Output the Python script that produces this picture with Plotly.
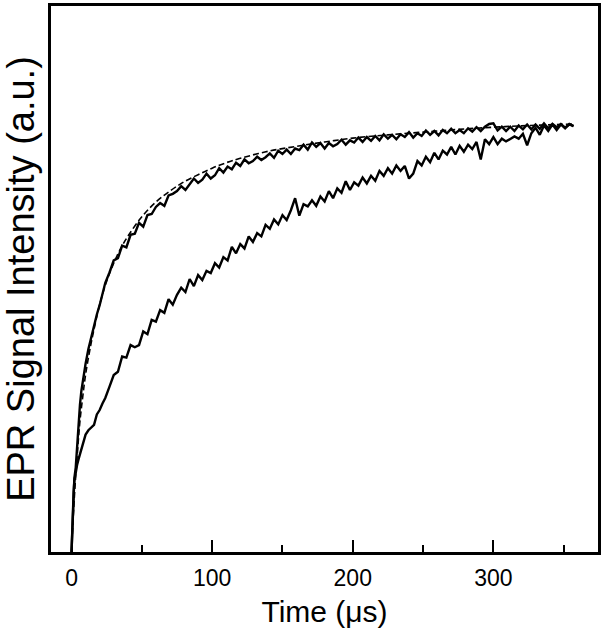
import plotly.graph_objects as go

# Sample times (µs): fine sampling during the fast rise, then every 3 µs
time_early_us = [0, 0.5, 1, 1.5, 2, 3, 4, 5, 6, 7, 8, 10, 12, 14, 16, 18, 20, 22, 24, 27]
time_us = time_early_us + list(range(30, 358, 3))

# Fast-rising trace (solid)
fast_signal = [
    0, 4.5, 8, 11, 13.5, 15.5, 20, 24.5, 27, 29.5, 31.5, 34.5, 37.2, 39.5, 41.2, 43.5, 45.2, 47.5, 49.3, 51.2,
    53.4, 53.8, 56.1, 55.8, 58.1, 58.3, 60.3, 59.6, 61.7, 61.9,
    63.2, 63.9, 63.4, 65.3, 65.6, 66.1, 67.0, 66.3, 67.4, 68.4,
    67.6, 68.2, 69.3, 68.4, 69.0, 70.3, 69.5, 70.6, 70.1, 71.3,
    70.7, 71.9, 71.2, 71.6, 72.4, 71.8, 72.3, 73.0, 72.2, 73.5,
    72.9, 73.7, 72.9, 73.9, 73.6, 74.6, 73.7, 75.0, 74.2, 74.9,
    73.9, 74.9, 74.3, 74.7, 75.5, 74.6, 75.4, 75.0, 75.9, 75.1,
    76.0, 75.3, 76.2, 75.4, 76.5, 75.7, 76.4, 75.6, 76.5, 76.0,
    76.9, 75.9, 76.7, 76.2, 77.2, 76.4, 77.1, 76.3, 77.3, 76.7,
    77.5, 76.7, 77.3, 76.7, 77.6, 77.0, 77.8, 77.1, 77.9, 78.4,
    78.5, 77.2, 77.9, 77.1, 77.9, 77.1, 78.1, 77.4, 78.3, 77.4,
    78.3, 77.5, 78.5, 77.6, 78.4, 77.8, 78.4, 77.7, 78.3, 78.0,
]

# Slow-rising trace (solid)
slow_signal = [
    0, 4.5, 8, 11, 13, 15, 16, 17, 18, 19, 20, 21.5, 22.3, 22.8, 23.3, 25.2, 26.0, 27.2, 28.2, 30.3,
    32.4, 33.0, 35.8, 35.6, 37.9, 37.5, 37.9, 40.4, 39.9, 42.5,
    42.2, 44.3, 43.8, 46.3, 45.3, 47.1, 48.4, 47.6, 50.0, 48.7,
    50.7, 49.8, 51.5, 51.1, 52.9, 52.1, 54.0, 53.4, 55.9, 54.7,
    56.4, 55.6, 57.8, 56.8, 58.4, 57.8, 59.9, 59.2, 60.9, 60.0,
    61.7, 60.8, 62.6, 64.8, 61.6, 63.7, 63.3, 64.4, 63.4, 65.1,
    64.2, 66.1, 64.8, 66.6, 65.8, 67.9, 66.3, 67.7, 67.1, 68.6,
    67.5, 68.9, 68.0, 69.8, 68.9, 70.3, 69.3, 70.8, 69.8, 70.7,
    68.4, 69.3, 71.6, 70.8, 72.4, 71.4, 73.1, 71.9, 73.5, 72.8,
    74.2, 72.8, 74.4, 73.3, 74.6, 73.8, 75.1, 71.9, 75.6, 74.7,
    76.0, 74.7, 75.7, 75.2, 75.7, 76.1, 75.7, 76.6, 74.5, 76.7,
    77.7, 76.4, 78.1, 77.1, 78.3, 77.3, 78.3, 77.6, 78.4, 78.0,
]

# Smooth fit to the fast trace (dashed)
fit_time_us = [0, 1, 2, 3, 4, 5, 6, 8, 10, 13, 16, 20, 25, 30, 35, 40, 50, 60, 70, 80, 90,
               100, 110, 120, 140, 160, 180, 200, 225, 250, 275, 300, 325, 358]
fit_signal = [0, 5.5, 10, 14.0, 17.5, 21, 24, 28.5, 32.5, 37.0, 40.8, 45.3, 49.6, 52.9, 55.6, 57.8,
              61.4, 64.1, 66.1, 67.8, 69.1, 70.3, 71.3, 72.1, 73.4, 74.3, 75.1, 75.8, 76.4, 76.9,
              77.4, 77.8, 78.1, 78.4]

major_ticks = [0, 100, 200, 300]
minor_ticks = [50, 150, 250, 350]

FONT = "Liberation Sans, Arial, sans-serif"

fig = go.Figure()
fig.add_trace(go.Scatter(x=time_us, y=slow_signal, mode="lines",
                         line=dict(color="black", width=2.4), showlegend=False))
fig.add_trace(go.Scatter(x=time_us, y=fast_signal, mode="lines",
                         line=dict(color="black", width=2.4), showlegend=False))
fig.add_trace(go.Scatter(x=fit_time_us, y=fit_signal, mode="lines",
                         line=dict(color="black", width=1.6, dash="6px,3px", shape="spline"),
                         showlegend=False))

fig.update_layout(
    width=604, height=631,
    margin=dict(l=51, r=6, t=6, b=79),
    paper_bgcolor="white", plot_bgcolor="white",
    font=dict(family=FONT, color="black"),
    xaxis=dict(
        range=[-14.6, 374.4],
        tickvals=major_ticks, ticktext=[str(v) for v in major_ticks],
        ticks="inside", ticklen=12, tickwidth=2, tickcolor="black",
        minor=dict(tickvals=minor_ticks, ticks="inside", ticklen=7, tickwidth=2,
                   tickcolor="black", showgrid=False),
        showline=True, linewidth=3, linecolor="black", mirror=True,
        showgrid=False, zeroline=False, automargin=False,
        ticklabelstandoff=3,
        tickfont=dict(size=23, family=FONT, color="black"),
        title=dict(text="Time (μs)", font=dict(size=30, family=FONT, color="black"), standoff=12),
    ),
    yaxis=dict(
        range=[0, 100],
        showticklabels=False, ticks="",
        showline=True, linewidth=3, linecolor="black", mirror=True,
        showgrid=False, zeroline=False, automargin=False,
        title=dict(text="EPR Signal Intensity (a.u.)",
                   font=dict(size=38, family=FONT, color="black"), standoff=9),
    ),
)

fig.write_html("out.html", config={"displayModeBar": False},
               post_script="document.body.style.margin='0';")
